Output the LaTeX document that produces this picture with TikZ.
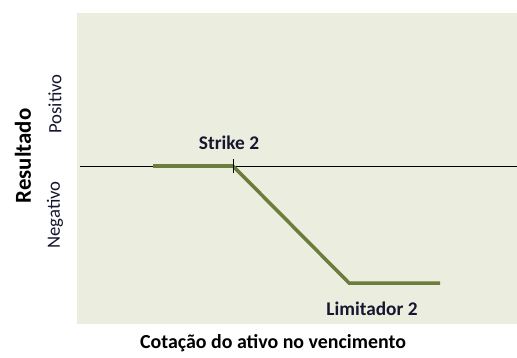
\documentclass[tikz,border=0pt]{standalone}
\usepackage{fontspec}
\setmainfont{Carlito}
\definecolor{panel}{RGB}{235,238,223}
\definecolor{olive}{RGB}{107,124,60}
\definecolor{navy}{RGB}{22,22,48}
\begin{document}
\begin{tikzpicture}[x=0.03cm, y=-0.03cm]
		\tikzset{lbl/.style={text=navy, inner sep=0pt, font=\fontsize{16}{18}\selectfont}};
		\tikzset{pay/.style={draw=olive, line width=3pt, line join=miter}};

		\useasboundingbox (0, 0) rectangle (517, 357);
		\fill[panel] (77, 13) rectangle (517, 324);

		\coordinate (o) at (80, 166);
		\coordinate (e) at (517, 166);
		\coordinate (s) at (153, 166);
		\coordinate (k) at (233, 166);
		\coordinate (l) at (349, 283);
		\coordinate (m) at (440, 283);

		\node[lbl, font=\bfseries\fontsize{19.5}{22}\selectfont, rotate=90, text=black] (res) at (23, 156) {Resultado};
		\node[lbl, rotate=90] (pos) at (55, 104) {Positivo};
		\node[lbl, rotate=90] (neg) at (55, 215) {Negativo};
		\node[lbl, font=\bfseries\fontsize{16.5}{18}\selectfont] (strike) at (229, 143) {Strike 2};
		\node[lbl, font=\bfseries\fontsize{16.5}{18}\selectfont] (lim) at (372, 309) {Limitador 2};
		\node[lbl, font=\bfseries\fontsize{17}{19}\selectfont, text=black] (cot) at (273, 343) {Cotação do ativo no vencimento};

		\draw[line width=0.8pt] (o) to (e);
		\draw[pay] (s) -- (k) -- (l) -- (m);
		\draw[line width=0.8pt] ([yshift=-6]k) to ([yshift=6]k);
	\end{tikzpicture}
\end{document}
